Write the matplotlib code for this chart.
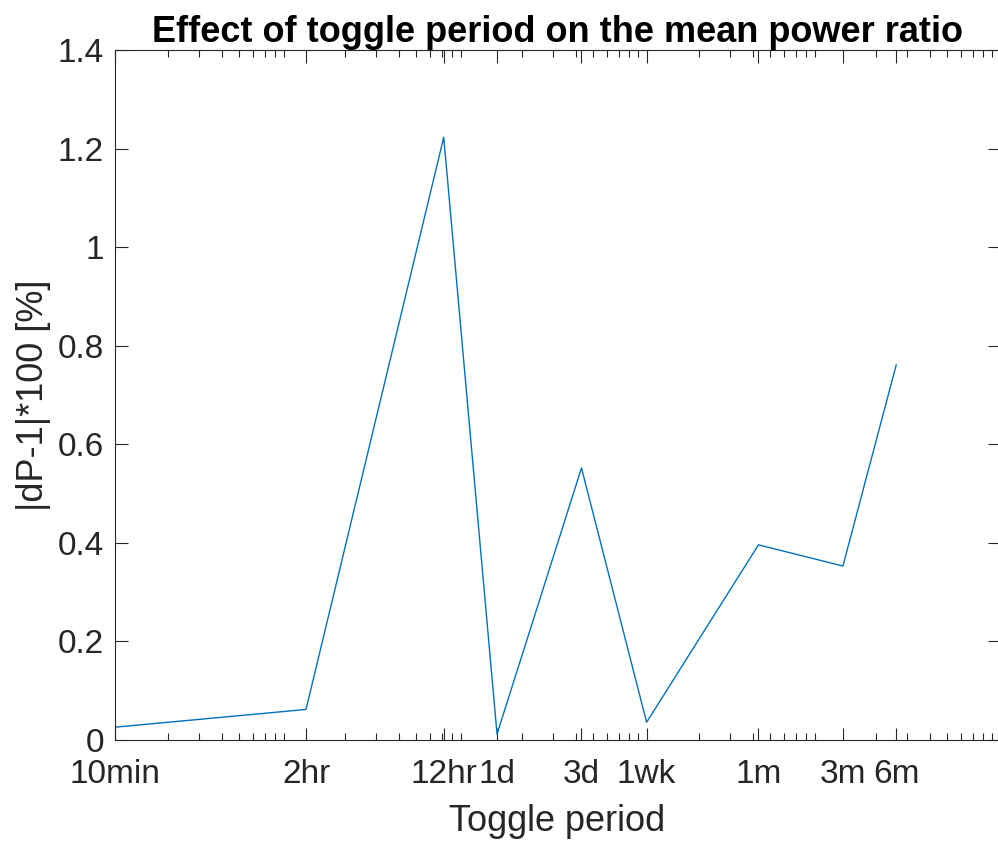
import numpy as np
import matplotlib
matplotlib.use('Agg')
import matplotlib.pyplot as plt
from matplotlib.ticker import LogLocator, NullFormatter

# Toggle periods (minutes) and their labels
period_labels = ['10min', '2hr', '12hr', '1d', '3d', '1wk', '1m', '3m', '6m']
period_min = [10, 120, 720, 1440, 4320, 10080, 43200, 129600, 259200]
# |dP-1|*100 for each toggle period
dp_pct = [0.026, 0.062, 1.223, 0.012, 0.552, 0.036, 0.396, 0.353, 0.761]

text_col = '#262626'
plt.rcParams['font.family'] = ['Liberation Sans', 'DejaVu Sans']

fig = plt.figure(figsize=(9.98, 8.41), dpi=100)
ax = fig.add_axes([115 / 998, 1 - 740 / 841, 885 / 998, 690 / 841])

ax.plot(period_min, dp_pct, color='#0072BD', lw=1.0)

ax.set_xscale('log')
ax.set_xlim(10, 1e6)
ax.set_ylim(0, 1.4)

ax.set_xticks(period_min)
ax.set_xticklabels(period_labels)
ax.xaxis.set_minor_locator(LogLocator(base=10, subs=np.arange(2, 10), numticks=20))
ax.xaxis.set_minor_formatter(NullFormatter())

yt = np.arange(0, 1.41, 0.2)
ax.set_yticks(yt)
ax.set_yticklabels(['0', '0.2', '0.4', '0.6', '0.8', '1', '1.2', '1.4'])

ax.tick_params(which='both', direction='in', top=True, right=True,
               colors=text_col, labelsize=24, width=0.8)
ax.tick_params(which='major', length=9)
ax.tick_params(which='minor', length=5)
ax.tick_params(axis='x', which='major', pad=14)
ax.tick_params(axis='y', which='major', pad=8)
for s in ax.spines.values():
    s.set_color(text_col)
    s.set_linewidth(0.8)

ax.set_xlabel('Toggle period', fontsize=26, color=text_col, labelpad=10)
ax.set_ylabel('|dP-1|*100 [%]', fontsize=26, color=text_col, labelpad=5)
ax.set_title('Effect of toggle period on the mean power ratio',
             fontsize=26, fontweight='bold', color='black', pad=4)

fig.savefig('out.png', dpi=100)
